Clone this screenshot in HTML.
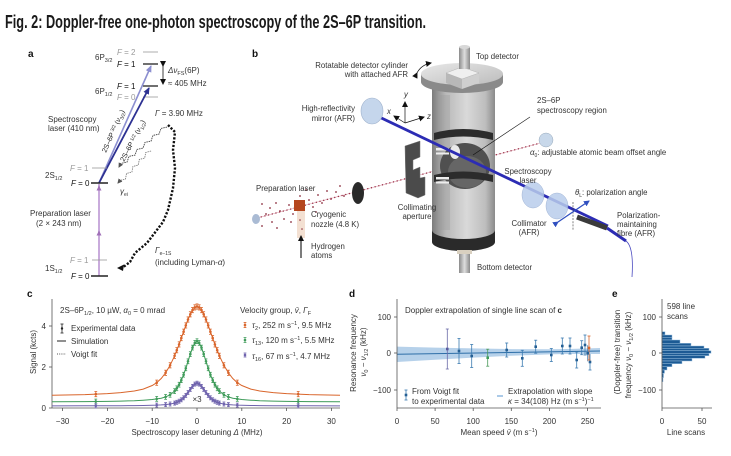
<!DOCTYPE html>
<html><head><meta charset="utf-8"><style>
html,body{margin:0;padding:0;background:#fff;}
svg{display:block;font-family:"Liberation Sans",sans-serif;}
</style></head><body>
<svg width="731" height="456" viewBox="0 0 731 456" xmlns="http://www.w3.org/2000/svg">
<defs>
<linearGradient id="cyl" x1="0" x2="1" y1="0" y2="0"><stop offset="0" stop-color="#7c7c7c"/><stop offset="0.22" stop-color="#b9b9b9"/><stop offset="0.55" stop-color="#d9d9d9"/><stop offset="0.85" stop-color="#bdbdbd"/><stop offset="1" stop-color="#8a8a8a"/></linearGradient>
<linearGradient id="disc" x1="0" x2="1" y1="0" y2="1"><stop offset="0" stop-color="#e8e8e8"/><stop offset="1" stop-color="#bcbcbc"/></linearGradient>
<linearGradient id="det" x1="0" x2="1"><stop offset="0" stop-color="#8a8a8a"/><stop offset="0.5" stop-color="#dedede"/><stop offset="1" stop-color="#8a8a8a"/></linearGradient>
<marker id="ahB" markerWidth="6" markerHeight="6" refX="5" refY="3" orient="auto" markerUnits="userSpaceOnUse"><path d="M0,0 L6,3 L0,6 z" fill="#111"/></marker>
<marker id="ahL" markerWidth="7" markerHeight="6" refX="6" refY="3" orient="auto" markerUnits="userSpaceOnUse"><path d="M0,0 L7,3 L0,6 z" fill="#8c8fd0"/></marker>
<marker id="ahD" markerWidth="7" markerHeight="6" refX="6" refY="3" orient="auto" markerUnits="userSpaceOnUse"><path d="M0,0 L7,3 L0,6 z" fill="#2d3192"/></marker>
<marker id="ahP" markerWidth="5" markerHeight="5" refX="2.5" refY="2.5" orient="auto" markerUnits="userSpaceOnUse"><path d="M0,0 L5,2.5 L0,5 z" fill="#a070b8"/></marker>
<marker id="ahG" markerWidth="5" markerHeight="5" refX="4" refY="2.5" orient="auto" markerUnits="userSpaceOnUse"><path d="M0,0 L5,2.5 L0,5 z" fill="#555"/></marker>
<marker id="ahU" markerWidth="6" markerHeight="6" refX="5" refY="3" orient="auto" markerUnits="userSpaceOnUse"><path d="M0,0 L6,3 L0,6 z" fill="#3050c0"/></marker>
<g id="po" stroke="#d9652b" fill="#d9652b" stroke-width="0.8"><line x1="0" y1="-2.6" x2="0" y2="2.6"/><line x1="-1.4" y1="-2.6" x2="1.4" y2="-2.6"/><line x1="-1.4" y1="2.6" x2="1.4" y2="2.6"/><circle r="1.3" stroke="none"/></g>
<g id="pg" stroke="#3e9b59" fill="#3e9b59" stroke-width="0.8"><line x1="0" y1="-2.4" x2="0" y2="2.4"/><line x1="-1.4" y1="-2.4" x2="1.4" y2="-2.4"/><line x1="-1.4" y1="2.4" x2="1.4" y2="2.4"/><circle r="1.3" stroke="none"/></g>
<g id="pp" stroke="#6f63ad" fill="#6f63ad" stroke-width="0.8"><line x1="0" y1="-2" x2="0" y2="2"/><line x1="-1.4" y1="-2" x2="1.4" y2="-2"/><line x1="-1.4" y1="2" x2="1.4" y2="2"/><circle r="1.3" stroke="none"/></g>
</defs>

<!-- Title -->
<text x="5" y="28" font-size="18.5" font-weight="bold" fill="#1a1a1a" textLength="421" lengthAdjust="spacingAndGlyphs">Fig. 2: Doppler-free one-photon spectroscopy of the 2S–6P transition.</text>

<!-- ================= Panel a ================= -->
<g font-size="8" fill="#333">
<text x="28" y="57" font-size="10" font-weight="bold" fill="#111">a</text>
<line x1="143" y1="52" x2="158" y2="52" stroke="#999" stroke-width="0.8"/>
<text x="117" y="55" fill="#999"><tspan font-style="italic">F</tspan> = 2</text>
<line x1="143" y1="64" x2="158" y2="64" stroke="#222" stroke-width="1.3"/>
<text x="117" y="67" fill="#111"><tspan font-style="italic">F</tspan> = 1</text>
<text x="95" y="60">6P<tspan font-size="5.5" dy="2">3/2</tspan></text>
<line x1="143" y1="86" x2="158" y2="86" stroke="#222" stroke-width="1.3"/>
<text x="117" y="89" fill="#111"><tspan font-style="italic">F</tspan> = 1</text>
<line x1="143" y1="97" x2="158" y2="97" stroke="#999" stroke-width="0.8"/>
<text x="117" y="100" fill="#999"><tspan font-style="italic">F</tspan> = 0</text>
<text x="95" y="94">6P<tspan font-size="5.5" dy="2">1/2</tspan></text>
<line x1="163" y1="66" x2="163" y2="84" stroke="#111" stroke-width="0.8" marker-end="url(#ahB)" marker-start="url(#ahB)"/>
<text x="168" y="73"><tspan font-style="italic">Δν</tspan><tspan font-size="5.5" dy="2">FS</tspan><tspan dy="-2">(6P)</tspan></text>
<text x="168" y="86">≈ 405 MHz</text>
<text x="155" y="116"><tspan font-style="italic">Γ</tspan> = 3.90 MHz</text>
<text x="48" y="122">Spectroscopy</text>
<text x="48" y="131">laser (410 nm)</text>
<line x1="99" y1="183" x2="151" y2="66" stroke="#8c8fd0" stroke-width="1.6" marker-end="url(#ahL)"/>
<line x1="99" y1="183" x2="149" y2="88" stroke="#2d3192" stroke-width="1.8" marker-end="url(#ahD)"/>
<text transform="translate(106,153) rotate(-66)" font-size="7" fill="#222">2S–6P<tspan font-size="4.8" dy="-2"> 3/2</tspan><tspan dy="2"> (</tspan><tspan font-style="italic">ν</tspan><tspan font-size="4.8" dy="2">3/2</tspan><tspan dy="-2">)</tspan></text>
<text transform="translate(124,162) rotate(-62)" font-size="7" fill="#222">2S–6P<tspan font-size="4.8" dy="-2"> 1/2</tspan><tspan dy="2"> (</tspan><tspan font-style="italic">ν</tspan><tspan font-size="4.8" dy="2">1/2</tspan><tspan dy="-2">)</tspan></text>
<line x1="92" y1="168" x2="107" y2="168" stroke="#999" stroke-width="0.8"/>
<text x="70" y="171" fill="#999"><tspan font-style="italic">F</tspan> = 1</text>
<line x1="91" y1="183" x2="108" y2="183" stroke="#222" stroke-width="1.4"/>
<text x="71" y="186" fill="#111"><tspan font-style="italic">F</tspan> = 0</text>
<text x="45" y="178">2S<tspan font-size="5.5" dy="2">1/2</tspan></text>
<line x1="99" y1="276" x2="99" y2="184" stroke="#c9abdc" stroke-width="2"/>
<line x1="99" y1="240" x2="99" y2="233" stroke="#c9abdc" stroke-width="2" marker-end="url(#ahP)"/>
<line x1="99" y1="194" x2="99" y2="188" stroke="#c9abdc" stroke-width="2" marker-end="url(#ahP)"/>
<text x="30" y="216">Preparation laser</text>
<text x="36" y="226">(2 × 243 nm)</text>
<line x1="92" y1="260" x2="107" y2="260" stroke="#999" stroke-width="0.8"/>
<text x="70" y="263" fill="#999"><tspan font-style="italic">F</tspan> = 1</text>
<line x1="91" y1="276" x2="108" y2="276" stroke="#222" stroke-width="1.4"/>
<text x="71" y="279" fill="#111"><tspan font-style="italic">F</tspan> = 0</text>
<text x="45" y="271">1S<tspan font-size="5.5" dy="2">1/2</tspan></text>
<polyline points="167,127.1 161,128.4 159,134.1 153,135.4 151,141.1 145,142.4 143,148.1 137,149.4 135,155.1 129,156.4 127,162.1 121,163.4 119,167" fill="none" stroke="#444" stroke-width="0.9" stroke-dasharray="1.5 0.8" marker-end="url(#ahG)"/>
<polyline points="151.1,151 145.7,152.5 144.7,158 139.3,159.5 138.3,165 132.9,166.5 131.9,172 126.5,173.5 125.5,179 120.1,180.5 118,183" fill="none" stroke="#777" stroke-width="0.8" stroke-dasharray="1.5 0.8" marker-end="url(#ahG)"/>
<text x="120" y="194" font-style="italic">γ<tspan font-size="5" dy="2" font-style="normal">ei</tspan></text>
<polyline points="168,125 175,132 173,150 175,168 173,188 168,210 163,222 147,243 135,253 130,262 122,268" fill="none" stroke="#111" stroke-width="2.4" stroke-dasharray="2.2 1.6"/>
<path d="M117,268 L124,264.5 L123,271 z" fill="#111"/>
<text x="155" y="253" font-style="italic">Γ<tspan font-size="5" dy="2" font-style="normal">e−1S</tspan></text>
<text x="155" y="265">(including Lyman-<tspan font-style="italic">α</tspan>)</text>
</g>

<!-- ================= Panel b ================= -->
<g font-size="7.8" fill="#333">
<text x="252" y="57" font-size="10" font-weight="bold" fill="#111">b</text>
<g fill="#8a2a3a">
<circle cx="262" cy="204" r="0.9"/><circle cx="270" cy="208" r="0.9"/><circle cx="266" cy="214" r="0.9"/><circle cx="276" cy="203" r="0.9"/><circle cx="280" cy="211" r="0.9"/><circle cx="284" cy="219" r="0.9"/><circle cx="272" cy="222" r="0.9"/><circle cx="262" cy="226" r="0.9"/><circle cx="289" cy="205" r="0.9"/><circle cx="293" cy="214" r="0.9"/><circle cx="291" cy="222" r="0.9"/><circle cx="309" cy="200" r="0.9"/><circle cx="313" cy="207" r="0.9"/><circle cx="318" cy="195" r="0.9"/><circle cx="322" cy="203" r="0.9"/><circle cx="327" cy="191" r="0.9"/><circle cx="331" cy="199" r="0.9"/><circle cx="336" cy="192" r="0.9"/><circle cx="340" cy="186" r="0.9"/><circle cx="316" cy="212" r="0.9"/><circle cx="300" cy="196" r="0.9"/><circle cx="277" cy="228" r="0.9"/><circle cx="344" cy="196" r="0.9"/><circle cx="306" cy="190" r="0.9"/>
</g>
<line x1="257" y1="218" x2="548" y2="141" stroke="#d890a0" stroke-width="0.5"/>
<line x1="257" y1="218" x2="548" y2="141" stroke="#9a3048" stroke-width="1.3" stroke-dasharray="1.2 2.6"/>
<ellipse cx="256" cy="219" rx="4" ry="5" fill="#aabbd4"/>
<rect x="297" y="210" width="8" height="28" fill="#f3e0d2"/>
<circle cx="300" cy="220" r="0.8" fill="#8a2a3a"/><circle cx="302" cy="229" r="0.8" fill="#8a2a3a"/>
<rect x="294" y="200" width="11" height="11" fill="#b5461e"/>
<line x1="301" y1="258" x2="301" y2="236" stroke="#111" stroke-width="1.1" marker-end="url(#ahB)"/>
<ellipse cx="358" cy="193" rx="6" ry="11" fill="#2a2a2a"/>
<polygon points="405,146 420,141 420,157 413,160 413,170 420,167 420,178 425,177 425,195 418,198 406,193" fill="#4b4b4b" stroke="#777" stroke-width="0.5"/>
<!-- cylinder -->
<rect x="432" y="84" width="63" height="156" fill="url(#cyl)"/>
<path d="M438,95 L450,95 L450,230 L438,230 z" fill="#9a9a9a" opacity="0.35"/>
<path d="M421,74 v8 a41,11 0 0 0 82,0 v-8 z" fill="#8a8a8a"/>
<ellipse cx="462" cy="74" rx="41" ry="11" fill="url(#disc)"/>
<polygon points="446,73 462,79 462,89 446,83" fill="#b8b8b8"/>
<polygon points="462,79 479,73 479,83 462,89" fill="#cfcfcf"/>
<polygon points="446,73 462,67 479,73 462,79" fill="#efefef" stroke="#aaa" stroke-width="0.4"/>
<rect x="459" y="47" width="11" height="22" fill="url(#det)"/>
<ellipse cx="464.5" cy="47" rx="5.5" ry="2" fill="#d8d8d8"/>
<!-- middle section -->
<path d="M434,133 q29,-8 59,0 v7 q-30,-7 -59,0 z" fill="#2c2c2c"/>
<ellipse cx="465" cy="166" rx="25" ry="23" fill="#505050"/>
<ellipse cx="467" cy="172" rx="19" ry="16" fill="#666"/>
<path d="M434,175 q29,-7 59,0 v7 q-30,-7 -59,0 z" fill="#2c2c2c"/>
<rect x="436" y="148" width="13" height="2.5" fill="#eee"/><rect x="436" y="152.5" width="13" height="2" fill="#eee"/>
<rect x="436" y="177" width="13" height="2.5" fill="#eee"/><rect x="436" y="181.5" width="13" height="2" fill="#eee"/>
<ellipse cx="455" cy="152" rx="5" ry="7" fill="#eaeaea"/>
<path d="M432,230 v12 a31.5,9 0 0 0 63,0 v-12 a31.5,9 0 0 1 -63,0 z" fill="#2a2a2a"/>
<rect x="459" y="251" width="11" height="22" fill="url(#det)"/>
<rect x="457" y="250" width="15" height="4" fill="#d9d0c0"/>
<!-- laser beam -->
<line x1="373" y1="114" x2="608" y2="226" stroke="#2c2cb4" stroke-width="2.8"/>
<ellipse cx="372" cy="111" rx="11" ry="13" fill="#c5d6ec" stroke="#9fb2cc" stroke-width="0.6"/>
<ellipse cx="533" cy="195" rx="11" ry="13" fill="#b9cdec" opacity="0.85" stroke="#8fa6cc" stroke-width="0.5"/>
<ellipse cx="557" cy="206" rx="11" ry="13" fill="#b9cdec" opacity="0.85" stroke="#8fa6cc" stroke-width="0.5"/>
<line x1="577" y1="217" x2="607" y2="228" stroke="#3a3a3a" stroke-width="5"/>
<line x1="607" y1="228" x2="626" y2="241" stroke="#2c2cb4" stroke-width="3"/>
<path d="M626,241 q8,6 6,36" fill="none" stroke="#4a4ac0" stroke-width="0.8"/>
<line x1="573" y1="202" x2="573" y2="230" stroke="#333" stroke-width="0.6" stroke-dasharray="2 1.2"/>
<line x1="558" y1="222" x2="589" y2="201" stroke="#3050c0" stroke-width="1.3" marker-end="url(#ahU)" marker-start="url(#ahU)"/>
<ellipse cx="546" cy="140" rx="7" ry="7" fill="#c8d8ea" stroke="#9ab" stroke-width="0.5"/>
<g stroke="#111" stroke-width="0.7">
<line x1="405" y1="123" x2="405" y2="102" marker-end="url(#ahB)"/>
<line x1="405" y1="123" x2="424" y2="117" marker-end="url(#ahB)"/>
<line x1="405" y1="123" x2="394" y2="116" marker-end="url(#ahB)"/>
</g>
<text x="404" y="97" font-style="italic">y</text>
<text x="387" y="114" font-style="italic">x</text>
<text x="427" y="119" font-style="italic">z</text>
<line x1="530" y1="117" x2="473" y2="155" stroke="#111" stroke-width="0.6"/>
<path d="M417,73 q4,-8 14,-10" fill="none" stroke="#111" stroke-width="0.7" marker-end="url(#ahB)" marker-start="url(#ahB)"/>
<text x="476" y="59">Top detector</text>
<text x="408" y="68" text-anchor="end">Rotatable detector cylinder</text>
<text x="408" y="77" text-anchor="end">with attached AFR</text>
<text x="355" y="111" text-anchor="end">High-reflectivity</text>
<text x="355" y="121" text-anchor="end">mirror (AFR)</text>
<text x="537" y="103">2S–6P</text>
<text x="537" y="113">spectroscopy region</text>
<text x="530" y="155"><tspan font-style="italic">α</tspan><tspan font-size="5" dy="2">0</tspan><tspan dy="-2">: adjustable atomic beam offset angle</tspan></text>
<text x="528" y="174" text-anchor="middle">Spectroscopy</text>
<text x="528" y="183" text-anchor="middle">laser</text>
<text x="575" y="195"><tspan font-style="italic">θ</tspan><tspan font-size="5" dy="2">L</tspan><tspan dy="-2">: polarization angle</tspan></text>
<text x="256" y="191">Preparation laser</text>
<text x="311" y="217">Cryogenic</text>
<text x="311" y="227">nozzle (4.8 K)</text>
<text x="311" y="249">Hydrogen</text>
<text x="311" y="258">atoms</text>
<text x="417" y="210" text-anchor="middle">Collimating</text>
<text x="417" y="219" text-anchor="middle">aperture</text>
<text x="529" y="226" text-anchor="middle">Collimator</text>
<text x="529" y="235" text-anchor="middle">(AFR)</text>
<text x="617" y="218">Polarization-</text>
<text x="617" y="227">maintaining</text>
<text x="617" y="236">fibre (AFR)</text>
<text x="477" y="270">Bottom detector</text>
</g>

<!-- ================= Panel c ================= -->
<g font-size="8" fill="#333">
<text x="27" y="297" font-size="10" font-weight="bold" fill="#111">c</text>
<g stroke="#555" stroke-width="0.8">
<line x1="52" y1="299" x2="52" y2="408"/>
<line x1="52" y1="408" x2="340" y2="408"/>
<line x1="49" y1="408" x2="52" y2="408"/><line x1="49" y1="367" x2="52" y2="367"/><line x1="49" y1="326" x2="52" y2="326"/>
<line x1="62.6" y1="408" x2="62.6" y2="411"/><line x1="107.4" y1="408" x2="107.4" y2="411"/><line x1="152.2" y1="408" x2="152.2" y2="411"/><line x1="197" y1="408" x2="197" y2="411"/><line x1="241.8" y1="408" x2="241.8" y2="411"/><line x1="286.6" y1="408" x2="286.6" y2="411"/><line x1="331.4" y1="408" x2="331.4" y2="411"/>
</g>
<text x="46" y="411" text-anchor="end">0</text>
<text x="46" y="370" text-anchor="end">2</text>
<text x="46" y="329" text-anchor="end">4</text>
<g text-anchor="middle">
<text x="62.6" y="424">−30</text><text x="107.4" y="424">−20</text><text x="152.2" y="424">−10</text><text x="197" y="424">0</text><text x="241.8" y="424">10</text><text x="286.6" y="424">20</text><text x="331.4" y="424">30</text>
<text x="197" y="435" textLength="131" lengthAdjust="spacingAndGlyphs">Spectroscopy laser detuning <tspan font-style="italic">Δ</tspan> (MHz)</text>
<text transform="translate(36,352) rotate(-90)">Signal (kcts)</text>
</g>
<polyline fill="none" stroke="#d9652b" stroke-width="1" points="52,395.2 85,394.6 107.4,393.6 120.8,392.6 134.3,391 143.2,389.1 152.2,385.5 156.7,382.7 161.2,378.5 165.6,372.8 170.1,365.3 174.6,355.8 176.8,350.2 179.1,344.4 181.3,338.1 183.6,331.7 185.8,325.4 188,319.5 190.3,314.3 192.5,310.1 194.8,307.4 197,306.5 199.2,307.4 201.5,310.1 203.7,314.3 206,319.5 208.2,325.4 210.4,331.7 212.7,338.1 214.9,344.4 217.2,350.2 219.4,355.8 223.9,365.3 228.4,372.8 232.8,378.5 237.3,382.7 241.8,385.5 250.8,389.1 259.7,391 273.2,392.6 286.6,393.6 309,394.6 340,395.2"/>
<polyline fill="none" stroke="#3e9b59" stroke-width="1" points="52,401.8 85,401.6 107.4,401.4 120.8,401.1 134.3,400.7 143.2,400.2 152.2,399.5 156.7,398.9 161.2,398.2 165.6,396.9 170.1,394.8 174.6,391.1 176.8,388.3 179.1,384.7 181.3,380.2 183.6,374.7 185.8,368.3 188,361.3 190.3,354.1 192.5,347.6 194.8,342.9 197,341.2 199.2,342.9 201.5,347.6 203.7,354.1 206,361.3 208.2,368.3 210.4,374.7 212.7,380.2 214.9,384.7 217.2,388.3 219.4,391.1 223.9,394.8 228.4,396.9 232.8,398.2 237.3,398.9 241.8,399.5 250.8,400.2 259.7,400.7 273.2,401.1 286.6,401.4 309,401.6 340,401.8"/>
<polyline fill="none" stroke="#6f63ad" stroke-width="1" points="52,405.9 85,405.8 107.4,405.8 120.8,405.7 134.3,405.6 143.2,405.5 152.2,405.2 156.7,405.1 161.2,404.9 165.6,404.6 170.1,404 174.6,403.1 176.8,402.3 179.1,401.2 181.3,399.8 183.6,397.8 185.8,395.4 188,392.5 190.3,389.4 192.5,386.4 194.8,384.1 197,383.2 199.2,384.1 201.5,386.4 203.7,389.4 206,392.5 208.2,395.4 210.4,397.8 212.7,399.8 214.9,401.2 217.2,402.3 219.4,403.1 223.9,404 228.4,404.6 232.8,404.9 237.3,405.1 241.8,405.2 250.8,405.5 259.7,405.6 273.2,405.7 286.6,405.8 309,405.8 340,405.9"/>
<use href="#po" x="95.8" y="394.1"/><use href="#po" x="156.7" y="382.7"/><use href="#po" x="165.6" y="372.8"/><use href="#po" x="170.1" y="365.3"/><use href="#po" x="174.6" y="355.8"/><use href="#po" x="176.8" y="350.2"/><use href="#po" x="179.1" y="344.4"/><use href="#po" x="181.3" y="338.1"/><use href="#po" x="183.6" y="331.7"/><use href="#po" x="185.8" y="325.4"/><use href="#po" x="188" y="319.5"/><use href="#po" x="190.3" y="314.3"/><use href="#po" x="192.5" y="310.1"/><use href="#po" x="194.8" y="307.4"/><use href="#po" x="197" y="306.5"/><use href="#po" x="199.2" y="307.4"/><use href="#po" x="201.5" y="310.1"/><use href="#po" x="203.7" y="314.3"/><use href="#po" x="206" y="319.5"/><use href="#po" x="208.2" y="325.4"/><use href="#po" x="210.4" y="331.7"/><use href="#po" x="212.7" y="338.1"/><use href="#po" x="214.9" y="344.4"/><use href="#po" x="217.2" y="350.2"/><use href="#po" x="219.4" y="355.8"/><use href="#po" x="223.9" y="365.3"/><use href="#po" x="228.4" y="372.8"/><use href="#po" x="237.3" y="382.7"/><use href="#po" x="298.2" y="394.1"/>
<use href="#pg" x="95.8" y="401.5"/><use href="#pg" x="156.7" y="398.9"/><use href="#pg" x="165.6" y="396.9"/><use href="#pg" x="170.1" y="394.8"/><use href="#pg" x="174.6" y="391.1"/><use href="#pg" x="176.8" y="388.3"/><use href="#pg" x="179.1" y="384.7"/><use href="#pg" x="181.3" y="380.2"/><use href="#pg" x="183.6" y="374.7"/><use href="#pg" x="185.8" y="368.3"/><use href="#pg" x="188" y="361.3"/><use href="#pg" x="190.3" y="354.1"/><use href="#pg" x="192.5" y="347.6"/><use href="#pg" x="194.8" y="342.9"/><use href="#pg" x="197" y="341.2"/><use href="#pg" x="199.2" y="342.9"/><use href="#pg" x="201.5" y="347.6"/><use href="#pg" x="203.7" y="354.1"/><use href="#pg" x="206" y="361.3"/><use href="#pg" x="208.2" y="368.3"/><use href="#pg" x="210.4" y="374.7"/><use href="#pg" x="212.7" y="380.2"/><use href="#pg" x="214.9" y="384.7"/><use href="#pg" x="217.2" y="388.3"/><use href="#pg" x="219.4" y="391.1"/><use href="#pg" x="223.9" y="394.8"/><use href="#pg" x="228.4" y="396.9"/><use href="#pg" x="237.3" y="398.9"/><use href="#pg" x="298.2" y="401.5"/>
<use href="#pp" x="95.8" y="405.8"/><use href="#pp" x="156.7" y="405.1"/><use href="#pp" x="165.6" y="404.6"/><use href="#pp" x="170.1" y="404"/><use href="#pp" x="174.6" y="403.1"/><use href="#pp" x="176.8" y="402.3"/><use href="#pp" x="179.1" y="401.2"/><use href="#pp" x="181.3" y="399.8"/><use href="#pp" x="183.6" y="397.8"/><use href="#pp" x="185.8" y="395.4"/><use href="#pp" x="188" y="392.5"/><use href="#pp" x="190.3" y="389.4"/><use href="#pp" x="192.5" y="386.4"/><use href="#pp" x="194.8" y="384.1"/><use href="#pp" x="197" y="383.2"/><use href="#pp" x="199.2" y="384.1"/><use href="#pp" x="201.5" y="386.4"/><use href="#pp" x="203.7" y="389.4"/><use href="#pp" x="206" y="392.5"/><use href="#pp" x="208.2" y="395.4"/><use href="#pp" x="210.4" y="397.8"/><use href="#pp" x="212.7" y="399.8"/><use href="#pp" x="214.9" y="401.2"/><use href="#pp" x="217.2" y="402.3"/><use href="#pp" x="219.4" y="403.1"/><use href="#pp" x="223.9" y="404"/><use href="#pp" x="228.4" y="404.6"/><use href="#pp" x="237.3" y="405.1"/><use href="#pp" x="298.2" y="405.8"/>
<text x="197" y="402" text-anchor="middle">×3</text>
<text x="60" y="313">2S–6P<tspan font-size="5.5" dy="2">1/2</tspan><tspan dy="-2">, 10 µW, </tspan><tspan font-style="italic">α</tspan><tspan font-size="5.5" dy="2">0</tspan><tspan dy="-2"> = 0 mrad</tspan></text>
<g stroke="#222" stroke-width="0.8"><line x1="62" y1="324" x2="62" y2="333"/><line x1="60.5" y1="324" x2="63.5" y2="324"/><line x1="60.5" y1="333" x2="63.5" y2="333"/></g>
<circle cx="62" cy="328.5" r="1.2" fill="#222"/>
<text x="71" y="331">Experimental data</text>
<line x1="57" y1="341" x2="66" y2="341" stroke="#222" stroke-width="1"/>
<text x="71" y="344">Simulation</text>
<line x1="57" y1="354" x2="66" y2="354" stroke="#555" stroke-width="1" stroke-dasharray="1 1.2"/>
<text x="71" y="357">Voigt fit</text>
<text x="240" y="313">Velocity group, <tspan font-style="italic">v̄</tspan>, <tspan font-style="italic">Γ</tspan><tspan font-size="5.5" dy="2">F</tspan></text>
<use href="#po" x="245" y="325"/><use href="#pg" x="245" y="340"/><use href="#pp" x="245" y="355"/>
<text x="252" y="328"><tspan font-style="italic">τ</tspan><tspan font-size="5.5" dy="2">2</tspan><tspan dy="-2">, 252 m s</tspan><tspan font-size="5.5" dy="-3">−1</tspan><tspan dy="3">, 9.5 MHz</tspan></text>
<text x="252" y="343"><tspan font-style="italic">τ</tspan><tspan font-size="5.5" dy="2">13</tspan><tspan dy="-2">, 120 m s</tspan><tspan font-size="5.5" dy="-3">−1</tspan><tspan dy="3">, 5.5 MHz</tspan></text>
<text x="252" y="359"><tspan font-style="italic">τ</tspan><tspan font-size="5.5" dy="2">16</tspan><tspan dy="-2">, 67 m s</tspan><tspan font-size="5.5" dy="-3">−1</tspan><tspan dy="3">, 4.7 MHz</tspan></text>
</g>

<!-- ================= Panel d ================= -->
<g font-size="8" fill="#333">
<text x="349" y="297" font-size="10" font-weight="bold" fill="#111">d</text>
<polygon fill="#a9c9e6" opacity="0.85" points="397,346.6 435.1,347.6 473.2,348.4 511.3,349.1 549.4,349.3 560.8,349.1 572.3,348.9 600,348.0 600,354.0 572.3,354.0 560.8,354.1 549.4,354.4 511.3,355.7 473.2,357.6 435.1,359.8 397,362"/>
<line x1="397" y1="354.3" x2="600" y2="351" stroke="#2e6fa8" stroke-width="1"/>
<g stroke="#555" stroke-width="0.8">
<line x1="397" y1="299" x2="397" y2="408"/>
<line x1="397" y1="408" x2="601" y2="408"/>
<line x1="394" y1="317" x2="397" y2="317"/><line x1="394" y1="353" x2="397" y2="353"/><line x1="394" y1="390" x2="397" y2="390"/>
<line x1="397" y1="408" x2="397" y2="411"/><line x1="435.1" y1="408" x2="435.1" y2="411"/><line x1="473.2" y1="408" x2="473.2" y2="411"/><line x1="511.3" y1="408" x2="511.3" y2="411"/><line x1="549.4" y1="408" x2="549.4" y2="411"/><line x1="587.5" y1="408" x2="587.5" y2="411"/>
</g>
<text x="391" y="320" text-anchor="end">100</text>
<text x="391" y="356" text-anchor="end">0</text>
<text x="391" y="393" text-anchor="end">−100</text>
<g text-anchor="middle">
<text x="397" y="424">0</text><text x="435.1" y="424">50</text><text x="473.2" y="424">100</text><text x="511.3" y="424">150</text><text x="549.4" y="424">200</text><text x="587.5" y="424">250</text>
<text x="499" y="435">Mean speed <tspan font-style="italic">v̄</tspan> (m s<tspan font-size="5.5" dy="-3">−1</tspan><tspan dy="3">)</tspan></text>
<text transform="translate(356,353) rotate(-90)">Resonance frequency</text>
<text transform="translate(366,352) rotate(-90)"><tspan font-style="italic">ν</tspan><tspan font-size="5.5" dy="2">0</tspan><tspan dy="-2"> − </tspan><tspan font-style="italic">ν</tspan><tspan font-size="5.5" dy="2">1/2</tspan><tspan dy="-2"> (kHz)</tspan></text>
</g>
<text x="405" y="313" textLength="157" lengthAdjust="spacingAndGlyphs">Doppler extrapolation of single line scan of <tspan font-weight="bold">c</tspan></text>
<g stroke-width="0.8">
<g stroke="#6a6aa8"><line x1="447.3" y1="329" x2="447.3" y2="369"/><line x1="445.8" y1="329" x2="448.8" y2="329"/><line x1="445.8" y1="369" x2="448.8" y2="369"/></g>
<g stroke="#3a7ab0">
<line x1="459" y1="338.5" x2="459" y2="363.5"/><line x1="457.5" y1="338.5" x2="460.5" y2="338.5"/><line x1="457.5" y1="363.5" x2="460.5" y2="363.5"/>
<line x1="471.7" y1="344.5" x2="471.7" y2="367.5"/><line x1="470.2" y1="344.5" x2="473.2" y2="344.5"/><line x1="470.2" y1="367.5" x2="473.2" y2="367.5"/>
<line x1="506.7" y1="343" x2="506.7" y2="357"/><line x1="505.2" y1="343" x2="508.2" y2="343"/><line x1="505.2" y1="357" x2="508.2" y2="357"/>
<line x1="522.3" y1="350.3" x2="522.3" y2="366.3"/><line x1="520.8" y1="350.3" x2="523.8" y2="350.3"/><line x1="520.8" y1="366.3" x2="523.8" y2="366.3"/>
<line x1="535.7" y1="340.2" x2="535.7" y2="353.2"/><line x1="534.2" y1="340.2" x2="537.2" y2="340.2"/><line x1="534.2" y1="353.2" x2="537.2" y2="353.2"/>
<line x1="551.3" y1="348.5" x2="551.3" y2="361.5"/><line x1="549.8" y1="348.5" x2="552.8" y2="348.5"/><line x1="549.8" y1="361.5" x2="552.8" y2="361.5"/>
<line x1="562.3" y1="338" x2="562.3" y2="354"/><line x1="560.8" y1="338" x2="563.8" y2="338"/><line x1="560.8" y1="354" x2="563.8" y2="354"/>
<line x1="570" y1="338" x2="570" y2="354"/><line x1="568.5" y1="338" x2="571.5" y2="338"/><line x1="568.5" y1="354" x2="571.5" y2="354"/>
<line x1="576.7" y1="352" x2="576.7" y2="368"/><line x1="575.2" y1="352" x2="578.2" y2="352"/><line x1="575.2" y1="368" x2="578.2" y2="368"/>
<line x1="581.7" y1="340.7" x2="581.7" y2="354.7"/><line x1="580.2" y1="340.7" x2="583.2" y2="340.7"/><line x1="580.2" y1="354.7" x2="583.2" y2="354.7"/>
<line x1="585" y1="335" x2="585" y2="355"/><line x1="583.5" y1="335" x2="586.5" y2="335"/><line x1="583.5" y1="355" x2="586.5" y2="355"/>
<line x1="587.7" y1="345.3" x2="587.7" y2="361.3"/>
<line x1="590" y1="354" x2="590" y2="370"/><line x1="588.5" y1="370" x2="591.5" y2="370"/>
</g>
<g stroke="#4a9a5a"><line x1="487.7" y1="349.2" x2="487.7" y2="366.2"/><line x1="486.2" y1="349.2" x2="489.2" y2="349.2"/><line x1="486.2" y1="366.2" x2="489.2" y2="366.2"/></g>
<g stroke="#d9652b"><line x1="589" y1="336" x2="589" y2="360"/><line x1="587.5" y1="336" x2="590.5" y2="336"/><line x1="587.5" y1="360" x2="590.5" y2="360"/></g>
</g>
<g fill="#245f94">
<rect x="446" y="347.7" width="2.6" height="2.6" fill="#5a5a9e"/>
<rect x="457.7" y="349.7" width="2.6" height="2.6"/>
<rect x="470.4" y="354.7" width="2.6" height="2.6"/>
<rect x="486.4" y="356.4" width="2.6" height="2.6" fill="#3e9b59"/>
<rect x="505.4" y="348.7" width="2.6" height="2.6"/>
<rect x="521" y="357" width="2.6" height="2.6"/>
<rect x="534.4" y="345.4" width="2.6" height="2.6"/>
<rect x="550" y="353.7" width="2.6" height="2.6"/>
<rect x="561" y="344.7" width="2.6" height="2.6"/>
<rect x="568.7" y="344.7" width="2.6" height="2.6"/>
<rect x="575.4" y="358.7" width="2.6" height="2.6"/>
<rect x="580.4" y="346.4" width="2.6" height="2.6"/>
<rect x="583.7" y="343.7" width="2.6" height="2.6"/>
<rect x="586.4" y="352" width="2.6" height="2.6"/>
<rect x="587.7" y="346.7" width="2.6" height="2.6" fill="#d9652b"/>
<rect x="588.7" y="360.7" width="2.6" height="2.6"/>
</g>
<g stroke="#3a7ab0" stroke-width="0.8"><line x1="406" y1="390" x2="406" y2="400"/><line x1="404.5" y1="390" x2="407.5" y2="390"/><line x1="404.5" y1="400" x2="407.5" y2="400"/></g>
<rect x="404.7" y="393.7" width="2.6" height="2.6" fill="#245f94"/>
<text x="412" y="394">From Voigt fit</text>
<text x="412" y="404">to experimental data</text>
<line x1="497" y1="396" x2="503" y2="396" stroke="#8fb8e0" stroke-width="1.5"/>
<text x="508" y="394">Extrapolation with slope</text>
<text x="508" y="404"><tspan font-style="italic">κ</tspan> = 34(108) Hz (m s<tspan font-size="5.5" dy="-3">−1</tspan><tspan dy="3">)</tspan><tspan font-size="5.5" dy="-3">−1</tspan></text>
</g>

<!-- ================= Panel e ================= -->
<g font-size="8" fill="#333">
<text x="612" y="297" font-size="10" font-weight="bold" fill="#111">e</text>
<g fill="#1c5a94" stroke="#9cc0e0" stroke-width="0.5">
<rect x="662" y="331.7" width="3" height="3.3"/>
<rect x="662" y="335" width="10" height="2.3"/>
<rect x="662" y="337.3" width="10" height="2.7"/>
<rect x="662" y="340" width="18" height="3.3"/>
<rect x="662" y="343.3" width="29" height="2.7"/>
<rect x="662" y="346" width="42" height="2.3"/>
<rect x="662" y="348.3" width="47" height="2.4"/>
<rect x="662" y="350.7" width="49" height="2.6"/>
<rect x="662" y="353.3" width="47" height="2.4"/>
<rect x="662" y="355.7" width="43" height="2.6"/>
<rect x="662" y="358.3" width="30" height="2.7"/>
<rect x="662" y="361" width="20" height="2.7"/>
<rect x="662" y="363.7" width="10" height="3"/>
<rect x="662" y="366.7" width="5" height="3.3"/>
<rect x="662" y="370" width="2.5" height="3.3"/>
<rect x="662" y="373.3" width="1.5" height="4.4"/>
<rect x="662" y="377.7" width="1" height="4"/>
</g>
<g stroke="#555" stroke-width="0.8">
<line x1="662" y1="299" x2="662" y2="408"/>
<line x1="662" y1="408" x2="712" y2="408"/>
<line x1="659" y1="317" x2="662" y2="317"/><line x1="659" y1="353" x2="662" y2="353"/><line x1="659" y1="390" x2="662" y2="390"/>
<line x1="662" y1="408" x2="662" y2="411"/><line x1="702" y1="408" x2="702" y2="411"/>
</g>
<text x="656" y="320" text-anchor="end">100</text>
<text x="656" y="356" text-anchor="end">0</text>
<text x="656" y="393" text-anchor="end">−100</text>
<g text-anchor="middle">
<text x="662" y="424">0</text><text x="702" y="424">50</text>
<text x="686" y="435">Line scans</text>
<text transform="translate(620,352) rotate(-90)">(Doppler-free) transition</text>
<text transform="translate(631,355) rotate(-90)">frequency <tspan font-style="italic">ν</tspan><tspan font-size="5.5" dy="2">0</tspan><tspan dy="-2"> − </tspan><tspan font-style="italic">ν</tspan><tspan font-size="5.5" dy="2">1/2</tspan><tspan dy="-2"> (kHz)</tspan></text>
</g>
<text x="667" y="309">598 line</text>
<text x="667" y="319">scans</text>
</g>
</svg>
</body></html>
